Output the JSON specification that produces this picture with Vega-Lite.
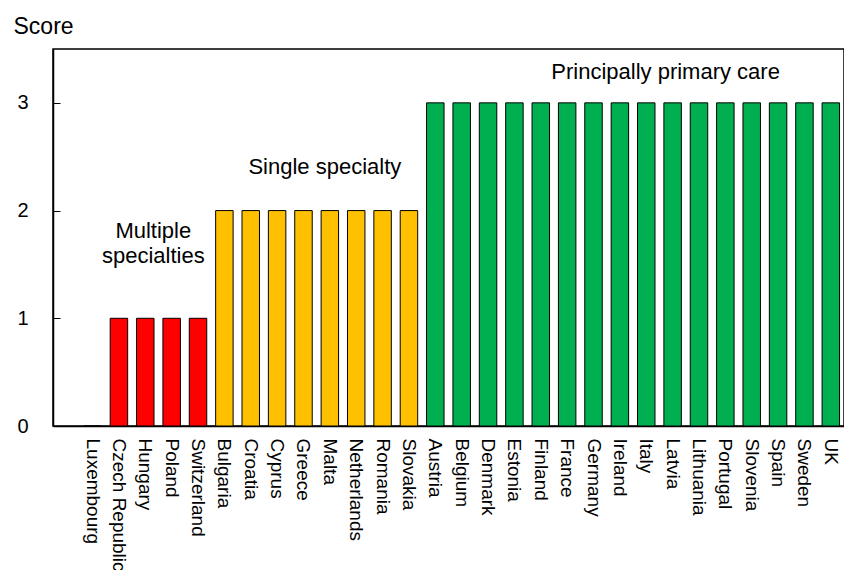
{
  "$schema": "https://vega.github.io/schema/vega-lite/v6.json",
  "width": 791,
  "height": 377,
  "autosize": {"type": "none"},
  "padding": {"left": 53, "top": 49, "right": 0, "bottom": 144},
  "background": "white",
  "config": {
    "view": {"stroke": "#000000", "strokeWidth": 1.5},
    "font": "Liberation Sans"
  },
  "datasets": {
    "scores": [
      {"country": "Luxembourg", "score": 0, "group": "None"},
      {"country": "Czech Republic", "score": 1, "group": "Multiple specialties"},
      {"country": "Hungary", "score": 1, "group": "Multiple specialties"},
      {"country": "Poland", "score": 1, "group": "Multiple specialties"},
      {"country": "Switzerland", "score": 1, "group": "Multiple specialties"},
      {"country": "Bulgaria", "score": 2, "group": "Single specialty"},
      {"country": "Croatia", "score": 2, "group": "Single specialty"},
      {"country": "Cyprus", "score": 2, "group": "Single specialty"},
      {"country": "Greece", "score": 2, "group": "Single specialty"},
      {"country": "Malta", "score": 2, "group": "Single specialty"},
      {"country": "Netherlands", "score": 2, "group": "Single specialty"},
      {"country": "Romania", "score": 2, "group": "Single specialty"},
      {"country": "Slovakia", "score": 2, "group": "Single specialty"},
      {"country": "Austria", "score": 3, "group": "Principally primary care"},
      {"country": "Belgium", "score": 3, "group": "Principally primary care"},
      {"country": "Denmark", "score": 3, "group": "Principally primary care"},
      {"country": "Estonia", "score": 3, "group": "Principally primary care"},
      {"country": "Finland", "score": 3, "group": "Principally primary care"},
      {"country": "France", "score": 3, "group": "Principally primary care"},
      {"country": "Germany", "score": 3, "group": "Principally primary care"},
      {"country": "Ireland", "score": 3, "group": "Principally primary care"},
      {"country": "Italy", "score": 3, "group": "Principally primary care"},
      {"country": "Latvia", "score": 3, "group": "Principally primary care"},
      {"country": "Lithuania", "score": 3, "group": "Principally primary care"},
      {"country": "Portugal", "score": 3, "group": "Principally primary care"},
      {"country": "Slovenia", "score": 3, "group": "Principally primary care"},
      {"country": "Spain", "score": 3, "group": "Principally primary care"},
      {"country": "Sweden", "score": 3, "group": "Principally primary care"},
      {"country": "UK", "score": 3, "group": "Principally primary care"}
    ],
    "notes": [
      {"id": "m1", "label": "Multiple", "country": "Hungary", "score": 1.746},
      {"id": "m2", "label": "specialties", "country": "Hungary", "score": 1.513},
      {"id": "s", "label": "Single specialty", "country": "Malta", "score": 2.34},
      {"id": "p", "label": "Principally primary care", "country": "Latvia", "score": 3.222}
    ]
  },
  "layer": [
    {
      "data": {"name": "scores"},
      "mark": {"type": "bar", "stroke": "#000000", "strokeWidth": 1},
      "encoding": {
        "x": {
          "field": "country",
          "type": "nominal",
          "sort": null,
          "scale": {"paddingInner": 0.337, "paddingOuter": 0.6685, "align": 0.874},
          "axis": {
            "title": null,
            "labelAngle": 90,
            "labelAlign": "left",
            "labelBaseline": "middle",
            "labelPadding": 12,
            "labelFontSize": 19,
            "labelColor": "#000000",
            "labelLimit": 300,
            "ticks": false,
            "domainColor": "#000000",
            "domainWidth": 1.5
          }
        },
        "y": {
          "field": "score",
          "type": "quantitative",
          "scale": {"domain": [0, 3.5], "nice": false},
          "axis": {
            "title": "Score",
            "titleAngle": 0,
            "titleX": -40,
            "titleY": -16,
            "titleAlign": "left",
            "titleBaseline": "alphabetic",
            "titleFontSize": 23,
            "titleFontWeight": "normal",
            "titleColor": "#000000",
            "values": [0, 1, 2, 3],
            "format": "d",
            "grid": false,
            "tickSize": -7,
            "tickColor": "#000000",
            "tickWidth": 1,
            "labelPadding": 32,
            "labelFontSize": 20,
            "labelColor": "#000000",
            "domainColor": "#000000",
            "domainWidth": 1.5
          }
        },
        "color": {
          "field": "group",
          "type": "nominal",
          "scale": {
            "domain": ["None", "Multiple specialties", "Single specialty", "Principally primary care"],
            "range": ["#ffffff", "#ff0000", "#ffc000", "#00b050"]
          },
          "legend": null
        }
      }
    },
    {
      "data": {"name": "notes"},
      "transform": [{"filter": "datum.id == 'm1' || datum.id == 'm2'"}],
      "mark": {"type": "text", "fontSize": 22, "align": "center", "baseline": "alphabetic", "dx": 8, "color": "#000000"},
      "encoding": {
        "x": {"field": "country", "type": "nominal", "sort": null},
        "y": {"field": "score", "type": "quantitative"},
        "text": {"field": "label"}
      }
    },
    {
      "data": {"name": "notes"},
      "transform": [{"filter": "datum.id == 's'"}],
      "mark": {"type": "text", "fontSize": 22, "align": "center", "baseline": "alphabetic", "dx": -5, "color": "#000000"},
      "encoding": {
        "x": {"field": "country", "type": "nominal", "sort": null},
        "y": {"field": "score", "type": "quantitative"},
        "text": {"field": "label"}
      }
    },
    {
      "data": {"name": "notes"},
      "transform": [{"filter": "datum.id == 'p'"}],
      "mark": {"type": "text", "fontSize": 22, "align": "center", "baseline": "alphabetic", "dx": -7, "color": "#000000"},
      "encoding": {
        "x": {"field": "country", "type": "nominal", "sort": null},
        "y": {"field": "score", "type": "quantitative"},
        "text": {"field": "label"}
      }
    }
  ]
}
